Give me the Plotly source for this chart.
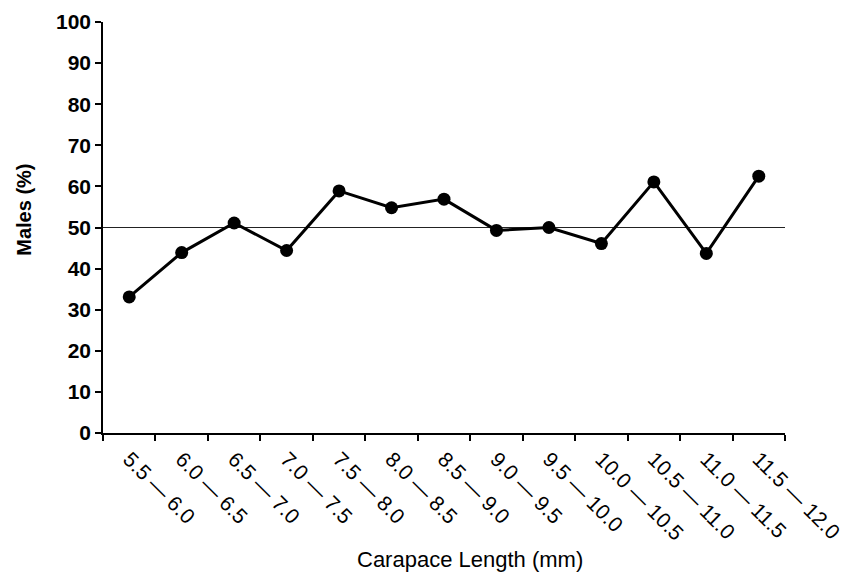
import plotly.graph_objects as go

categories = ["5.5 — 6.0", "6.0 — 6.5", "6.5 — 7.0", "7.0 — 7.5", "7.5 — 8.0",
              "8.0 — 8.5", "8.5 — 9.0", "9.0 — 9.5", "9.5 — 10.0", "10.0 — 10.5",
              "10.5 — 11.0", "11.0 — 11.5", "11.5 — 12.0"]
males_pct = [33.1, 43.9, 51.1, 44.4, 58.9, 54.8, 56.9, 49.3, 50.0, 46.1, 61.1, 43.7, 62.5]
reference_level = 50
y_ticks = list(range(0, 101, 10))

fig = go.Figure()
fig.add_trace(go.Scatter(
    x=categories, y=males_pct, mode="lines+markers",
    line=dict(color="black", width=3),
    marker=dict(color="black", size=13),
    showlegend=False,
))
fig.add_shape(type="line", xref="x domain", yref="y", x0=0, x1=1,
              y0=reference_level, y1=reference_level,
              line=dict(color="#222222", width=1.2), layer="below")

fig.update_layout(
    width=844, height=573,
    margin=dict(l=103, r=59, t=22, b=140),
    plot_bgcolor="white", paper_bgcolor="white",
    font=dict(family="Liberation Sans", color="black"),
    xaxis=dict(
        type="category", range=[-0.5, 12.5], automargin=False,
        tickson="boundaries", ticks="outside", ticklen=6, tickcolor="black", tickwidth=1.5,
        showline=True, linecolor="black", linewidth=1.5, showgrid=False,
        tickangle=45, ticklabelstandoff=4,
        tickfont=dict(size=21, family="Liberation Sans"),
    ),
    yaxis=dict(
        range=[0, 100], tickvals=y_ticks, ticks="outside", ticklen=6, automargin=False,
        tickcolor="black", tickwidth=1.5,
        showline=True, linecolor="black", linewidth=1.5, showgrid=False, zeroline=False,
        tickfont=dict(size=21, family="Liberation Sans", weight="bold"),
    ),
    annotations=[
        dict(text="Carapace Length (mm)", xref="paper", yref="paper",
             x=0.538, y=-0.309, xanchor="center", yanchor="middle", showarrow=False,
             font=dict(size=22, family="Liberation Sans")),
        dict(text="Males (%)", xref="paper", yref="paper", textangle=-90,
             x=-0.116, y=0.543, xanchor="center", yanchor="middle", showarrow=False,
             font=dict(size=20, family="Liberation Sans", weight="bold")),
    ],
)

fig.write_html("out.html")
